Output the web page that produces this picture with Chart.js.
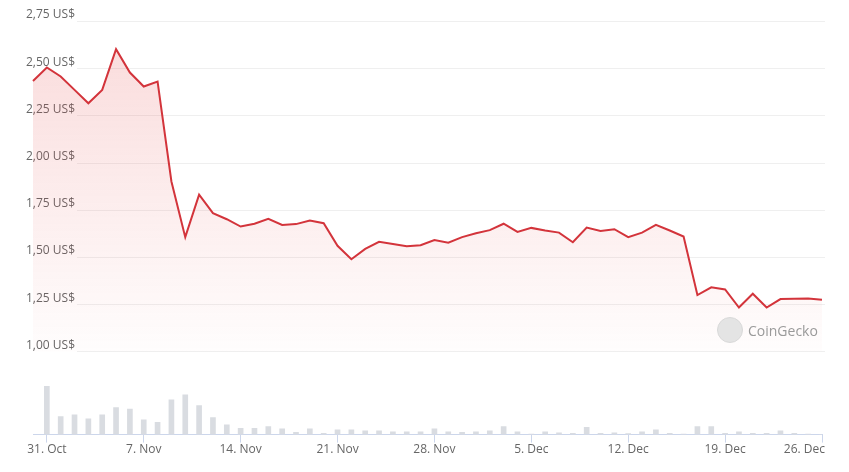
<!DOCTYPE html>
<html>
<head>
<meta charset="utf-8">
<script src="https://cdn.jsdelivr.net/npm/chart.js@4.4.1/dist/chart.umd.min.js"></script>
<style>
  html, body { margin: 0; padding: 0; background: #fff; }
  #wrap { position: relative; width: 849px; height: 472px; }
  #wm { position: absolute; left: 717px; top: 316px; height: 28px; display: flex; align-items: center;
        font-family: "Open Sans", "Noto Sans", sans-serif; font-size: 14px; color: #9a9a9a; }
  #wm .logo { width: 26px; height: 26px; border-radius: 50%; background: #e4e4e4; border: 1px solid #d8d8d8; margin-right: 5px; box-sizing: border-box; }
</style>
</head>
<body>
<div id="wrap">
  <canvas id="c" width="849" height="472"></canvas>
  <div id="wm"><span class="logo"></span>CoinGecko</div>
</div>
<script>
const categories = [
  "30 Oct","31 Oct",
  "1 Nov","2 Nov","3 Nov","4 Nov","5 Nov","6 Nov","7 Nov","8 Nov","9 Nov","10 Nov",
  "11 Nov","12 Nov","13 Nov","14 Nov","15 Nov","16 Nov","17 Nov","18 Nov","19 Nov","20 Nov",
  "21 Nov","22 Nov","23 Nov","24 Nov","25 Nov","26 Nov","27 Nov","28 Nov","29 Nov","30 Nov",
  "1 Dec","2 Dec","3 Dec","4 Dec","5 Dec","6 Dec","7 Dec","8 Dec","9 Dec","10 Dec",
  "11 Dec","12 Dec","13 Dec","14 Dec","15 Dec","16 Dec","17 Dec","18 Dec","19 Dec","20 Dec",
  "21 Dec","22 Dec","23 Dec","24 Dec","25 Dec","26 Dec"
];
const tickLabels = ["31. Oct","7. Nov","14. Nov","21. Nov","28. Nov","5. Dec","12. Dec","19. Dec","26. Dec"];
const tickDays = ["31 Oct","7 Nov","14 Nov","21 Nov","28 Nov","5 Dec","12 Dec","19 Dec","26 Dec"];
const price = [
  2.432, 2.504,
  2.456, 2.385, 2.314, 2.385, 2.601, 2.477, 2.403, 2.429, 1.900, 1.605,
  1.830, 1.732, 1.700, 1.661, 1.676, 1.702, 1.670, 1.674, 1.693, 1.679,
  1.559, 1.488, 1.543, 1.580, 1.569, 1.557, 1.562, 1.590, 1.576, 1.605,
  1.626, 1.642, 1.676, 1.633, 1.654, 1.640, 1.629, 1.578, 1.656, 1.638,
  1.647, 1.605, 1.629, 1.670, 1.640, 1.608, 1.298, 1.339, 1.328, 1.232,
  1.305, 1.232, 1.277, 1.278, 1.280, 1.273
];
// volume (millions US$)
const volume = [
  null, 48.0,
  18.0, 19.7, 15.7, 19.7, 27.0, 25.3, 14.7, 12.3, 34.7, 39.7,
  29.0, 17.0, 9.7, 6.3, 6.3, 8.0, 5.7, 2.3, 5.7, 1.3,
  4.7, 4.7, 3.7, 3.7, 2.7, 2.7, 2.7, 5.7, 2.7, 2.3,
  2.7, 3.7, 8.0, 2.7, 0.5, 2.7, 1.7, 1.3, 7.3, 1.3,
  1.7, 1.0, 2.7, 4.7, 1.3, 0.5, 8.0, 8.0, 1.3, 2.7,
  1.3, 1.3, 3.7, 1.3, 0.5, 0.2
];
const yTicks = [1.00, 1.25, 1.50, 1.75, 2.00, 2.25, 2.50, 2.75];

const PRICE_MIN = 0.559, PRICE_MAX = 2.75;
const volMax = Math.max(...volume.filter(v => v !== null)) * 412 / 48;

const isTick = v => yTicks.some(t => Math.abs(t - v) < 1e-6);

const gridPlugin = {
  id: 'priceGrid',
  beforeDatasetsDraw(chart) {
    const ctx = chart.ctx, y = chart.scales.y, a = chart.chartArea;
    ctx.save();
    ctx.strokeStyle = '#efefef';
    ctx.lineWidth = 1;
    yTicks.forEach(t => {
      const py = Math.round(y.getPixelForValue(t)) + 0.5;
      ctx.beginPath();
      ctx.moveTo(a.left + 44, py);
      ctx.lineTo(a.right + 3, py);
      ctx.stroke();
    });
    ctx.restore();
  }
};

// keep the last x label inside the canvas (right-aligned at its tick)
const lastLabelPlugin = {
  id: 'lastLabel',
  beforeDraw(chart) {
    const xs = chart.scales.x;
    const items = xs.getLabelItems();
    if (!items.length) return;
    const it = items[items.length - 1];
    if (it.options.textAlign !== 'right') {
      it.options.textAlign = 'right';
      it.options.translation = [it.options.translation[0] + 3, it.options.translation[1]];
    }
  }
};

const ctx = document.getElementById('c').getContext('2d');
new Chart(ctx, {
  type: 'line',
  data: {
    labels: categories,
    datasets: [
      {
        type: 'line',
        data: price,
        yAxisID: 'y',
        borderColor: '#d3343b',
        borderWidth: 2,
        pointRadius: 0,
        tension: 0,
        fill: { value: 1.0 },
        backgroundColor(c) {
          const a = c.chart.chartArea;
          if (!a) return 'rgba(220,60,60,0.15)';
          const ys = c.chart.scales.y;
          const g = c.chart.ctx.createLinearGradient(0, a.top, 0, ys.getPixelForValue(1.0));
          g.addColorStop(0, 'rgba(228,70,70,0.20)');
          g.addColorStop(1, 'rgba(228,70,70,0.01)');
          return g;
        },
        order: 1
      },
      {
        type: 'bar',
        data: volume,
        yAxisID: 'yv',
        backgroundColor: '#d9dce1',
        barThickness: 5,
        order: 2
      }
    ]
  },
  options: {
    responsive: false,
    animation: false,
    layout: { padding: { left: 33, right: 27, top: 21, bottom: 15 } },
    plugins: { legend: { display: false }, tooltip: { enabled: false } },
    scales: {
      x: {
        type: 'category',
        offset: false,
        grid: { display: true, drawOnChartArea: false, drawTicks: true, tickLength: 8, color: '#ccd6eb', offset: false },
        border: { display: true, color: '#ccd6eb' },
        ticks: {
          autoSkip: false, maxRotation: 0, minRotation: 0, padding: 0,
          color: '#666666',
          font: { family: '"Open Sans", "Noto Sans", sans-serif', size: 12 },
          callback(v, i) {
            const k = tickDays.indexOf(categories[i]);
            return k >= 0 ? tickLabels[k] : null;
          }
        }
      },
      y: {
        type: 'linear',
        position: 'left',
        min: PRICE_MIN, max: PRICE_MAX,
        grid: { display: false },
        border: { display: false },
        afterBuildTicks(s) { s.ticks = yTicks.map(v => ({ value: v })); },
        ticks: {
          mirror: true, padding: -5, labelOffset: -6,
          color: '#666666',
          font: { family: '"Open Sans", "Noto Sans", sans-serif', size: 12 },
          callback(v) { return isTick(v) ? v.toFixed(2).replace('.', ',') + ' US$' : null; }
        }
      },
      yv: {
        type: 'linear',
        display: false,
        min: 0, max: volMax
      }
    }
  },
  plugins: [gridPlugin, lastLabelPlugin]
});
</script>
</body>
</html>
